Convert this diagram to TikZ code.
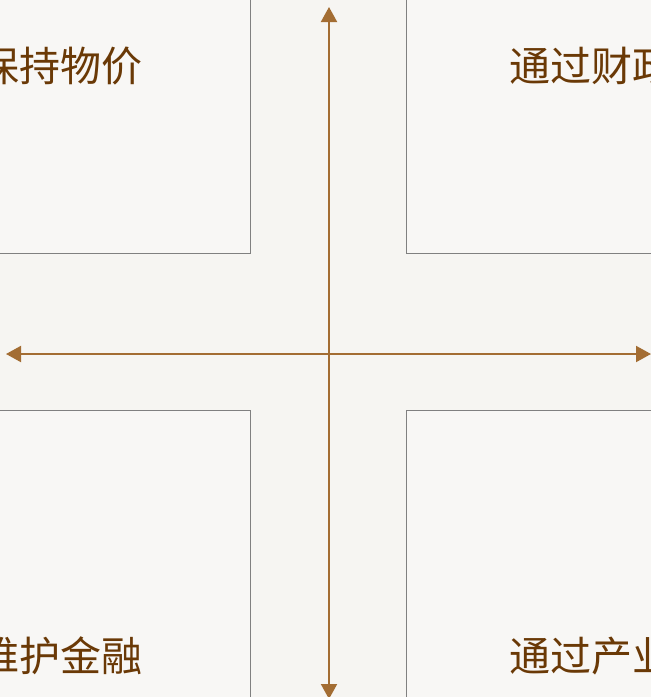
\documentclass[tikz,border=0pt]{standalone}
\usepackage{fontspec}
\newfontfamily\cjk{Noto Sans CJK SC}
\usepackage{xcolor}
\definecolor{paperColor}{HTML}{F6F5F2}
\definecolor{boxFill}{HTML}{F8F7F5}
\definecolor{boxLine}{HTML}{808080}
\definecolor{axisColor}{HTML}{A36D33}
\definecolor{textColor}{HTML}{6A3906}
\usepackage{tikz}
\usetikzlibrary{positioning,calc,arrows.meta}
\tikzset{
  quadBox/.style={
    rectangle,
    draw=boxLine,
    fill=boxFill,
    line width=1pt,
    minimum width=300pt,
    minimum height=300pt,
    inner sep=0pt
 },
  quadText/.style={
    inner sep=0pt,
    text=textColor,
    font=\cjk\fontsize{41}{41}\selectfont
 },
  axisLine/.style={
    {Triangle[length=15pt,width=16pt]}-{Triangle[length=15pt,width=16pt]},
    line width=2pt,
    color=axisColor
 }
}

\begin{document}
\begin{tikzpicture}[x=1pt,y=-1pt]

            % Canvas
            \useasboundingbox (0,0) rectangle (651,697);
            \clip (0,0) rectangle (651,697);
            \fill[paperColor] (0,0) rectangle (651,697);

            % Four quadrant boxes
            \node[quadBox, anchor=south east] (topLeft) at (251,254) {};
            \node[quadBox, anchor=south west] (topRight) at (406,254) {};
            \node[quadBox, anchor=north east] (botLeft) at (251,410) {};
            \node[quadBox, anchor=north west] (botRight) at (406,410) {};

            % Texts
            \node[quadText, anchor=east] (priceText) at (143,66) {保持物价};
            \node[quadText, anchor=west] (fiscalText) at (509,66) {通过财政};
            \node[quadText, anchor=east] (financeText) at (143,656) {维护金融};
            \node[quadText, anchor=west] (industryText) at (509,656) {通过产业};

            % Axes
            \coordinate (axisTop) at (329,7);
            \coordinate (axisBottom) at (329,699);
            \coordinate (axisLeft) at (6,354);
            \coordinate (axisRight) at (651,354);
            \draw[axisLine] (axisTop) -- (axisBottom);
            \draw[axisLine] (axisLeft) -- (axisRight);

        \end{tikzpicture}
\end{document}
